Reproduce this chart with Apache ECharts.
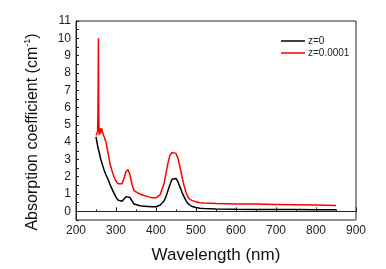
<!DOCTYPE html>
<html>
<head>
<meta charset="utf-8">
<script src="https://cdn.jsdelivr.net/npm/echarts@6/dist/echarts.min.js"></script>
<style>
html, body { margin: 0; padding: 0; background: #fff; }
#chart { width: 386px; height: 269px; }
</style>
</head>
<body>
<div id="chart"></div>
<script>
var wavelength = [250, 252, 254, 255, 256, 257, 258, 260, 262, 264, 266, 268, 270, 275, 280, 285, 290, 295, 300, 305,
    310, 315, 320, 325, 330, 335, 340, 345, 350, 360, 370, 380, 390, 400, 410, 420, 425, 430, 435, 440,
    445, 450, 455, 460, 465, 470, 475, 480, 485, 490, 500, 510, 520, 550, 600, 650, 700, 750, 800, 850];

var z0 = [4.3, 4.05, 3.8, 3.7, 3.6, 3.5, 3.4, 3.2, 3.0, 2.85, 2.7, 2.55, 2.4, 2.1, 1.85, 1.55, 1.3, 1.05, 0.82, 0.65,
    0.57, 0.58, 0.68, 0.85, 0.92, 0.8, 0.6, 0.42, 0.35, 0.32, 0.3, 0.28, 0.26, 0.27, 0.35, 0.6, 0.85, 1.2, 1.55, 1.85,
    1.95, 1.9, 1.7, 1.4, 1.1, 0.85, 0.62, 0.45, 0.35, 0.28, 0.22, 0.18, 0.16, 0.14, 0.12, 0.11, 0.1, 0.1, 0.09, 0.09];

var z1 = [4.4, 4.5, 4.6, 6.0, 10.0, 5.5, 4.4, 4.8, 4.5, 4.8, 4.6, 4.7, 4.5, 4.0, 3.4, 2.75, 2.35, 2.0, 1.75, 1.6,
    1.52, 1.6, 1.9, 2.3, 2.42, 2.1, 1.55, 1.2, 1.1, 1.0, 0.92, 0.85, 0.78, 0.78, 0.95, 1.6, 2.2, 2.8, 3.25, 3.4,
    3.42, 3.35, 3.05, 2.55, 2.0, 1.5, 1.1, 0.82, 0.68, 0.6, 0.55, 0.5, 0.48, 0.45, 0.43, 0.42, 0.4, 0.38, 0.36, 0.34];

var seriesNames = ['z=0', 'z=0.0001'];

function pairs(xs, ys) {
    var out = [];
    for (var i = 0; i < xs.length; i++) {
        out.push([xs[i], ys[i]]);
    }
    return out;
}

var font = 'Liberation Sans, Arial, sans-serif';

var option = {
    animation: false,
    textStyle: { fontFamily: font },
    grid: {
        left: 76,
        top: 21,
        right: 30,
        bottom: 49,
        show: true,
        borderColor: '#222',
        borderWidth: 1
    },
    legend: {
        orient: 'vertical',
        left: 276,
        top: 31,
        icon: 'rect',
        itemWidth: 24,
        itemHeight: 1.5,
        itemGap: 2,
        itemStyle: { borderWidth: 0 },
        textStyle: { fontSize: 10, color: '#222', fontFamily: font, padding: [0, 0, 0, -2] },
        data: seriesNames
    },
    xAxis: {
        type: 'value',
        min: 200,
        max: 900,
        interval: 100,
        axisLine: { lineStyle: { color: '#222' } },
        axisTick: { inside: true, length: 4, lineStyle: { color: '#222' } },
        minorTick: { show: true, splitNumber: 2, length: 2, lineStyle: { color: '#222' } },
        axisLabel: { fontSize: 12, color: '#222', margin: 5 },
        splitLine: { show: false }
    },
    yAxis: {
        type: 'value',
        min: -0.5,
        max: 11,
        interval: 0.5,
        axisLine: { show: true, lineStyle: { color: '#222' } },
        axisTick: { show: true, inside: true, length: 3, lineStyle: { color: '#222' } },
        axisLabel: {
            fontSize: 12,
            color: '#222',
            margin: 5,
            formatter: function (v) {
                return Math.abs(v - Math.round(v)) < 1e-6 ? String(Math.round(v)) : '';
            }
        },
        splitLine: { show: false }
    },
    graphic: [{
        type: 'text',
        x: 33,
        y: 132,
        rotation: Math.PI / 2,
        style: {
            text: 'Absorption coefficient (cm{sup|-1})',
            font: '16px ' + font,
            lineHeight: 20,
            fill: '#111',
            align: 'center',
            verticalAlign: 'middle',
            rich: {
                sup: { fontSize: 9, lineHeight: 9, verticalAlign: 'top', fill: '#111' }
            }
        }
    }, {
        type: 'text',
        x: 216,
        y: 255,
        style: {
            text: 'Wavelength (nm)',
            font: '17px ' + font,
            fill: '#111',
            align: 'center',
            verticalAlign: 'middle'
        }
    }],
    series: [{
        name: seriesNames[0],
        type: 'line',
        symbol: 'none',
        lineStyle: { color: '#000', width: 1.5 },
        itemStyle: { color: '#000' },
        data: pairs(wavelength, z0)
    }, {
        name: seriesNames[1],
        type: 'line',
        symbol: 'none',
        lineStyle: { color: '#f00', width: 1.5 },
        itemStyle: { color: '#f00' },
        data: pairs(wavelength, z1)
    }]
};

var myChart = echarts.init(document.getElementById('chart'));
myChart.setOption(option);
</script>
</body>
</html>
